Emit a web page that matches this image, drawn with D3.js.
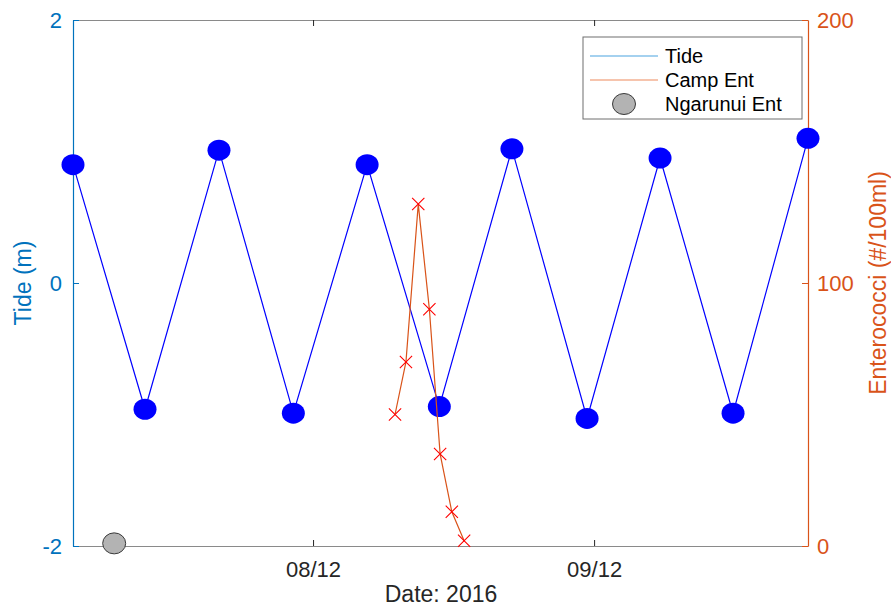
<!DOCTYPE html>
<html>
<head>
<meta charset="utf-8">
<script src="https://cdn.jsdelivr.net/npm/d3@7"></script>
<style>
  html, body { margin: 0; padding: 0; background: #fff; }
  text { font-family: "Liberation Sans", Arial, Helvetica, sans-serif; }
</style>
</head>
<body>
<svg id="chart" width="891" height="607"></svg>
<script>
// Tide extremes (m)
const tideTimes = [
  "2016-12-07 03:30", "2016-12-07 09:39", "2016-12-07 15:58", "2016-12-07 22:19",
  "2016-12-08 04:37", "2016-12-08 10:47", "2016-12-08 16:59", "2016-12-08 23:24",
  "2016-12-09 05:38", "2016-12-09 11:52", "2016-12-09 18:16"
];
const tideValues = [0.90, -0.96, 1.01, -0.99, 0.90, -0.94, 1.02, -1.03, 0.95, -0.99, 1.10];

// Enterococci at Camp site (#/100ml)
const campTimes = [
  "2016-12-08 07:00", "2016-12-08 07:56", "2016-12-08 08:59", "2016-12-08 09:56",
  "2016-12-08 10:51", "2016-12-08 11:51", "2016-12-08 12:54"
];
const campValues = [50, 70, 130, 90, 35, 13, 2];

// Enterococci at Ngarunui (#/100ml)
const ngarunuiTimes = ["2016-12-07 07:01"];
const ngarunuiValues = [1];

// Axis settings
const timeDomain = ["2016-12-07 03:30", "2016-12-09 18:16"];
const tideTicks = [-2, 0, 2];
const entTicks = [0, 100, 200];
const dateTicks = ["2016-12-08 00:00", "2016-12-09 00:00"];

const parse = d3.timeParse("%Y-%m-%d %H:%M");
const tide = tideTimes.map((t, i) => ({ t: parse(t), v: tideValues[i] }));
const camp = campTimes.map((t, i) => ({ t: parse(t), v: campValues[i] }));
const ngar = ngarunuiTimes.map((t, i) => ({ t: parse(t), v: ngarunuiValues[i] }));

const svg = d3.select("#chart");
const L = 73, R = 808, T = 20, B = 546;
const blueAxis = "#0072BD", orangeAxis = "#D95319", greyAxis = "#262626";
const tickFont = 22;

const x = d3.scaleTime().domain(timeDomain.map(parse)).range([L, R]);
const yL = d3.scaleLinear().domain([-2, 2]).range([B, T]);
const yR = d3.scaleLinear().domain([0, 200]).range([B, T]);

// Axes
const xAxis = d3.axisBottom(x).tickValues(dateTicks.map(parse))
  .tickFormat(d3.timeFormat("%d/%m")).tickSizeInner(-6).tickSizeOuter(0).tickPadding(15);
const gx = svg.append("g").attr("transform", `translate(0,${B})`).call(xAxis);
gx.select(".domain").attr("stroke", "#8a8a8a").attr("stroke-width", 1.2);
gx.selectAll(".tick line").attr("stroke", greyAxis);
gx.selectAll("text").attr("fill", greyAxis).attr("font-size", tickFont);

const xTop = d3.axisTop(x).tickValues(dateTicks.map(parse)).tickFormat("")
  .tickSizeInner(-6).tickSizeOuter(0);
const gxt = svg.append("g").attr("transform", `translate(0,${T})`).call(xTop);
gxt.select(".domain").attr("stroke", "#8a8a8a").attr("stroke-width", 1.2);
gxt.selectAll(".tick line").attr("stroke", greyAxis);

const gl = svg.append("g").attr("transform", `translate(${L},0)`)
  .call(d3.axisLeft(yL).tickValues(tideTicks).tickFormat(d3.format("d"))
    .tickSizeInner(-6).tickSizeOuter(0).tickPadding(11));
gl.select(".domain").attr("stroke", blueAxis).attr("stroke-width", 1.2);
gl.selectAll(".tick line").attr("stroke", blueAxis);
gl.selectAll("text").attr("fill", blueAxis).attr("font-size", tickFont)
  .text(d => d < 0 ? "-" + Math.abs(d) : d);

const gr = svg.append("g").attr("transform", `translate(${R},0)`)
  .call(d3.axisRight(yR).tickValues(entTicks).tickSizeInner(-6).tickSizeOuter(0).tickPadding(9));
gr.select(".domain").attr("stroke", orangeAxis).attr("stroke-width", 1.2);
gr.selectAll(".tick line").attr("stroke", orangeAxis);
gr.selectAll("text").attr("fill", orangeAxis).attr("font-size", tickFont);

// Axis titles
svg.append("text").attr("x", 441).attr("y", 602).attr("text-anchor", "middle")
  .attr("fill", greyAxis).attr("font-size", 23).text("Date: 2016");
svg.append("text").attr("transform", `translate(31,${(T + B) / 2}) rotate(-90)`)
  .attr("text-anchor", "middle").attr("fill", blueAxis).attr("font-size", 23).text("Tide (m)");
svg.append("text").attr("transform", `translate(886,${(T + B) / 2}) rotate(-90)`)
  .attr("text-anchor", "middle").attr("fill", orangeAxis).attr("font-size", 23)
  .text("Enterococci (#/100ml)");

// Tide series
svg.append("path").datum(tide)
  .attr("fill", "none").attr("stroke", "#0000ff").attr("stroke-width", 1.2)
  .attr("d", d3.line().x(d => x(d.t)).y(d => yL(d.v)));
svg.append("g").selectAll("ellipse").data(tide).join("ellipse")
  .attr("cx", d => x(d.t)).attr("cy", d => yL(d.v))
  .attr("rx", 11.5).attr("ry", 10.5).attr("fill", "#0000ff");

// Camp enterococci series
svg.append("path").datum(camp)
  .attr("fill", "none").attr("stroke", orangeAxis).attr("stroke-width", 1.2)
  .attr("d", d3.line().x(d => x(d.t)).y(d => yR(d.v)));
const cross = d3.symbol().type(d3.symbolX).size(100);
svg.append("g").selectAll("path").data(camp).join("path")
  .attr("transform", d => `translate(${x(d.t)},${yR(d.v)})`)
  .attr("d", cross).attr("fill", "none").attr("stroke", "#ff0000").attr("stroke-width", 1.1);

// Ngarunui enterococci
svg.append("g").selectAll("ellipse").data(ngar).join("ellipse")
  .attr("cx", d => x(d.t)).attr("cy", d => yR(d.v))
  .attr("rx", 11.5).attr("ry", 10.5).attr("fill", "#b3b3b3")
  .attr("stroke", "#3a3a3a").attr("stroke-width", 1);

// Legend
const lg = svg.append("g");
lg.append("rect").attr("x", 583).attr("y", 37).attr("width", 219).attr("height", 82)
  .attr("fill", "#fff").attr("stroke", "#6e6e6e").attr("stroke-width", 1);
const items = [
  { name: "Tide", kind: "line", color: "#4aa3df" },
  { name: "Camp Ent", kind: "line", color: "#ee8a5c" },
  { name: "Ngarunui Ent", kind: "dot" }
];
items.forEach((it, i) => {
  const cy = 56 + i * 24;
  if (it.kind === "line") {
    lg.append("line").attr("x1", 590).attr("x2", 658).attr("y1", cy).attr("y2", cy)
      .attr("stroke", it.color).attr("stroke-width", 1.2);
  } else {
    lg.append("ellipse").attr("cx", 624).attr("cy", cy).attr("rx", 11.5).attr("ry", 10.5)
      .attr("fill", "#b3b3b3").attr("stroke", "#3a3a3a").attr("stroke-width", 1);
  }
  lg.append("text").attr("x", 665).attr("y", cy + 7).attr("fill", "#000")
    .attr("font-size", 20).text(it.name);
});
</script>
</body>
</html>
